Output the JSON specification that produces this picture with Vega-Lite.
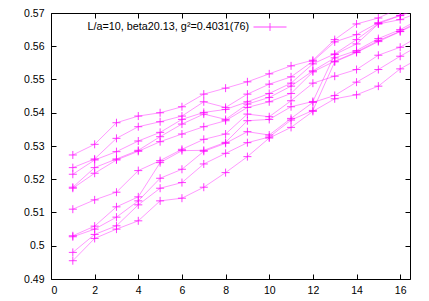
{
  "$schema": "https://vega.github.io/schema/vega-lite/v6.json",
  "width": 359,
  "height": 266,
  "autosize": {"type": "none"},
  "padding": {"left": 51, "top": 13, "right": 19, "bottom": 22},
  "background": "white",
  "config": {
    "view": {"stroke": "#000000", "strokeWidth": 1},
    "font": "Liberation Sans",
    "axis": {
      "domain": false,
      "grid": false,
      "tickColor": "#000000",
      "tickSize": -5,
      "tickWidth": 1,
      "labelColor": "#000000",
      "labelFont": "Liberation Sans",
      "labelFontSize": 10.5,
      "title": null
    }
  },
  "data": {
    "values": [
      {"s": "r1", "x": 1, "y": 0.5273}, {"s": "r2", "x": 1, "y": 0.5235}, {"s": "r3", "x": 1, "y": 0.5215}, {"s": "r4", "x": 1, "y": 0.5176}, {"s": "r5", "x": 1, "y": 0.5173}, {"s": "r6", "x": 1, "y": 0.5110}, {"s": "r7", "x": 1, "y": 0.5030}, {"s": "r8", "x": 1, "y": 0.5027}, {"s": "r9", "x": 1, "y": 0.4980}, {"s": "r10", "x": 1, "y": 0.4955},
      {"s": "r1", "x": 2, "y": 0.5305}, {"s": "r2", "x": 2, "y": 0.5261}, {"s": "r3", "x": 2, "y": 0.5258}, {"s": "r4", "x": 2, "y": 0.5235}, {"s": "r5", "x": 2, "y": 0.5218}, {"s": "r6", "x": 2, "y": 0.5138}, {"s": "r7", "x": 2, "y": 0.5059}, {"s": "r8", "x": 2, "y": 0.5050}, {"s": "r9", "x": 2, "y": 0.5034}, {"s": "r10", "x": 2, "y": 0.5022},
      {"s": "r1", "x": 3, "y": 0.5370}, {"s": "r2", "x": 3, "y": 0.5323}, {"s": "r3", "x": 3, "y": 0.5283}, {"s": "r4", "x": 3, "y": 0.5261}, {"s": "r5", "x": 3, "y": 0.5258}, {"s": "r6", "x": 3, "y": 0.5161}, {"s": "r7", "x": 3, "y": 0.5117}, {"s": "r8", "x": 3, "y": 0.5086}, {"s": "r9", "x": 3, "y": 0.5060}, {"s": "r10", "x": 3, "y": 0.5050},
      {"s": "r1", "x": 4, "y": 0.5390}, {"s": "r2", "x": 4, "y": 0.5358}, {"s": "r3", "x": 4, "y": 0.5315}, {"s": "r4", "x": 4, "y": 0.5287}, {"s": "r5", "x": 4, "y": 0.5284}, {"s": "r6", "x": 4, "y": 0.5226}, {"s": "r7", "x": 4, "y": 0.5147}, {"s": "r8", "x": 4, "y": 0.5135}, {"s": "r9", "x": 4, "y": 0.5123}, {"s": "r10", "x": 4, "y": 0.5075},
      {"s": "r1", "x": 5, "y": 0.5400}, {"s": "r2", "x": 5, "y": 0.5373}, {"s": "r3", "x": 5, "y": 0.5341}, {"s": "r4", "x": 5, "y": 0.5328}, {"s": "r5", "x": 5, "y": 0.5313}, {"s": "r6", "x": 5, "y": 0.5256}, {"s": "r7", "x": 5, "y": 0.5250}, {"s": "r8", "x": 5, "y": 0.5203}, {"s": "r9", "x": 5, "y": 0.5173}, {"s": "r10", "x": 5, "y": 0.5135},
      {"s": "r1", "x": 6, "y": 0.5418}, {"s": "r2", "x": 6, "y": 0.5390}, {"s": "r3", "x": 6, "y": 0.5380}, {"s": "r4", "x": 6, "y": 0.5366}, {"s": "r5", "x": 6, "y": 0.5336}, {"s": "r6", "x": 6, "y": 0.5290}, {"s": "r7", "x": 6, "y": 0.5286}, {"s": "r8", "x": 6, "y": 0.5230}, {"s": "r9", "x": 6, "y": 0.5190}, {"s": "r10", "x": 6, "y": 0.5143},
      {"s": "r1", "x": 7, "y": 0.5456}, {"s": "r2", "x": 7, "y": 0.5433}, {"s": "r3", "x": 7, "y": 0.5401}, {"s": "r4", "x": 7, "y": 0.5396}, {"s": "r5", "x": 7, "y": 0.5358}, {"s": "r6", "x": 7, "y": 0.5320}, {"s": "r7", "x": 7, "y": 0.5287}, {"s": "r8", "x": 7, "y": 0.5284}, {"s": "r9", "x": 7, "y": 0.5246}, {"s": "r10", "x": 7, "y": 0.5176},
      {"s": "r1", "x": 8, "y": 0.5474}, {"s": "r2", "x": 8, "y": 0.5416}, {"s": "r3", "x": 8, "y": 0.5410}, {"s": "r4", "x": 8, "y": 0.5380}, {"s": "r5", "x": 8, "y": 0.5376}, {"s": "r6", "x": 8, "y": 0.5336}, {"s": "r7", "x": 8, "y": 0.5311}, {"s": "r8", "x": 8, "y": 0.5308}, {"s": "r9", "x": 8, "y": 0.5278}, {"s": "r10", "x": 8, "y": 0.5220},
      {"s": "r1", "x": 9, "y": 0.5493}, {"s": "r2", "x": 9, "y": 0.5456}, {"s": "r3", "x": 9, "y": 0.5433}, {"s": "r4", "x": 9, "y": 0.5426}, {"s": "r5", "x": 9, "y": 0.5416}, {"s": "r6", "x": 9, "y": 0.5396}, {"s": "r7", "x": 9, "y": 0.5376}, {"s": "r8", "x": 9, "y": 0.5343}, {"s": "r9", "x": 9, "y": 0.5310}, {"s": "r10", "x": 9, "y": 0.5268},
      {"s": "r1", "x": 10, "y": 0.5517}, {"s": "r2", "x": 10, "y": 0.5486}, {"s": "r3", "x": 10, "y": 0.5458}, {"s": "r4", "x": 10, "y": 0.5446}, {"s": "r5", "x": 10, "y": 0.5433}, {"s": "r6", "x": 10, "y": 0.5388}, {"s": "r7", "x": 10, "y": 0.5380}, {"s": "r8", "x": 10, "y": 0.5333}, {"s": "r9", "x": 10, "y": 0.5327}, {"s": "r10", "x": 10, "y": 0.5324},
      {"s": "r1", "x": 11, "y": 0.5541}, {"s": "r2", "x": 11, "y": 0.5508}, {"s": "r3", "x": 11, "y": 0.5489}, {"s": "r4", "x": 11, "y": 0.5480}, {"s": "r5", "x": 11, "y": 0.5458}, {"s": "r6", "x": 11, "y": 0.5436}, {"s": "r7", "x": 11, "y": 0.5418}, {"s": "r8", "x": 11, "y": 0.5383}, {"s": "r9", "x": 11, "y": 0.5378}, {"s": "r10", "x": 11, "y": 0.5356},
      {"s": "r1", "x": 12, "y": 0.5558}, {"s": "r2", "x": 12, "y": 0.5555}, {"s": "r3", "x": 12, "y": 0.5547}, {"s": "r4", "x": 12, "y": 0.5526}, {"s": "r5", "x": 12, "y": 0.5523}, {"s": "r6", "x": 12, "y": 0.5489}, {"s": "r7", "x": 12, "y": 0.5434}, {"s": "r8", "x": 12, "y": 0.5431}, {"s": "r9", "x": 12, "y": 0.5407}, {"s": "r10", "x": 12, "y": 0.5404},
      {"s": "r1", "x": 13, "y": 0.5620}, {"s": "r2", "x": 13, "y": 0.5613}, {"s": "r3", "x": 13, "y": 0.5577}, {"s": "r4", "x": 13, "y": 0.5565}, {"s": "r5", "x": 13, "y": 0.5555}, {"s": "r6", "x": 13, "y": 0.5510}, {"s": "r7", "x": 13, "y": 0.5575}, {"s": "r8", "x": 13, "y": 0.5452}, {"s": "r9", "x": 13, "y": 0.5553}, {"s": "r10", "x": 13, "y": 0.5442},
      {"s": "r1", "x": 14, "y": 0.5667}, {"s": "r2", "x": 14, "y": 0.5635}, {"s": "r3", "x": 14, "y": 0.5620}, {"s": "r4", "x": 14, "y": 0.5587}, {"s": "r5", "x": 14, "y": 0.5583}, {"s": "r6", "x": 14, "y": 0.5530}, {"s": "r7", "x": 14, "y": 0.5607}, {"s": "r8", "x": 14, "y": 0.5492}, {"s": "r9", "x": 14, "y": 0.5581}, {"s": "r10", "x": 14, "y": 0.5454},
      {"s": "r1", "x": 15, "y": 0.5685}, {"s": "r2", "x": 15, "y": 0.5671}, {"s": "r3", "x": 15, "y": 0.5668}, {"s": "r4", "x": 15, "y": 0.5623}, {"s": "r5", "x": 15, "y": 0.5617}, {"s": "r6", "x": 15, "y": 0.5573}, {"s": "r7", "x": 15, "y": 0.5667}, {"s": "r8", "x": 15, "y": 0.5530}, {"s": "r9", "x": 15, "y": 0.5614}, {"s": "r10", "x": 15, "y": 0.5480},
      {"s": "r1", "x": 16, "y": 0.5715}, {"s": "r2", "x": 16, "y": 0.5693}, {"s": "r3", "x": 16, "y": 0.5692}, {"s": "r4", "x": 16, "y": 0.5650}, {"s": "r5", "x": 16, "y": 0.5645}, {"s": "r6", "x": 16, "y": 0.5597}, {"s": "r7", "x": 16, "y": 0.5680}, {"s": "r8", "x": 16, "y": 0.5570}, {"s": "r9", "x": 16, "y": 0.5644}, {"s": "r10", "x": 16, "y": 0.5532},
      {"s": "r1", "x": 17, "y": 0.5745}, {"s": "r2", "x": 17, "y": 0.5720}, {"s": "r3", "x": 17, "y": 0.5715}, {"s": "r4", "x": 17, "y": 0.5685}, {"s": "r5", "x": 17, "y": 0.5680}, {"s": "r6", "x": 17, "y": 0.5635}, {"s": "r7", "x": 17, "y": 0.5705}, {"s": "r8", "x": 17, "y": 0.5607}, {"s": "r9", "x": 17, "y": 0.5675}, {"s": "r10", "x": 17, "y": 0.5568}
    ]
  },
  "encoding": {
    "detail": {"field": "s", "type": "nominal"},
    "color": {
      "datum": "L/a=10, beta20.13, g²=0.4031(76)",
      "type": "nominal",
      "scale": {"range": ["#ff00ff"]},
      "legend": {
        "orient": "none",
        "legendX": 202,
        "legendY": -3,
        "title": null,
        "padding": 0,
        "symbolType": "M-1,0H1M0,-0.24V0.24",
        "symbolSize": 1089,
        "symbolStrokeWidth": 0.9,
        "symbolFillColor": "transparent",
        "symbolStrokeColor": "#ff00ff",
        "symbolOpacity": 0.8,
        "labelAlign": "right",
        "labelOffset": -38,
        "labelFont": "Liberation Sans",
        "labelFontSize": 10.8,
        "labelColor": "#000000",
        "labelLimit": 400
      }
    }
  },
  "layer": [
    {
      "mark": {"type": "line", "clip": true, "strokeWidth": 0.8, "opacity": 0.5},
      "encoding": {
        "x": {
          "field": "x", "type": "quantitative",
          "scale": {"domain": [0, 16.45], "nice": false, "zero": false},
          "axis": {"orient": "bottom", "values": [0, 2, 4, 6, 8, 10, 12, 14, 16], "labelPadding": 11, "format": "d"}
        },
        "y": {
          "field": "y", "type": "quantitative",
          "scale": {"domain": [0.49, 0.57], "nice": false, "zero": false},
          "axis": {"orient": "left", "values": [0.49, 0.5, 0.51, 0.52, 0.53, 0.54, 0.55, 0.56, 0.57], "labelPadding": 12, "format": ".2~f"}
        }
      }
    },
    {
      "mark": {"type": "point", "clip": true, "shape": "M-1,0H1M0,-1V1", "size": 64, "filled": false, "strokeWidth": 0.9, "opacity": 0.85},
      "encoding": {
        "x": {
          "field": "x", "type": "quantitative",
          "axis": {"orient": "top", "values": [0, 2, 4, 6, 8, 10, 12, 14, 16], "labels": false}
        },
        "y": {
          "field": "y", "type": "quantitative",
          "axis": {"orient": "right", "values": [0.49, 0.5, 0.51, 0.52, 0.53, 0.54, 0.55, 0.56, 0.57], "labels": false}
        }
      }
    }
  ],
  "resolve": {"axis": {"x": "independent", "y": "independent"}}
}
